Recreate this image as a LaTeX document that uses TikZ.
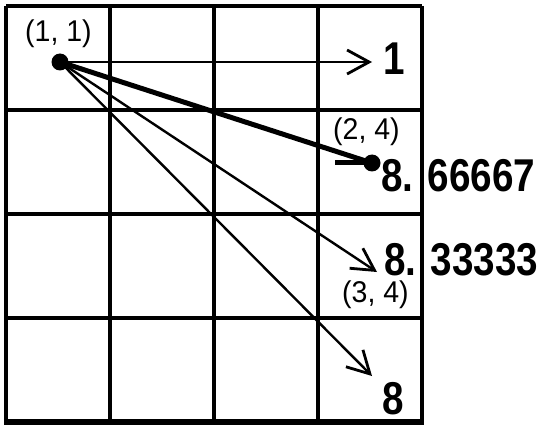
\documentclass[tikz,border=0pt]{standalone}
\usepackage{fontspec}
\setmainfont{Liberation Sans}
\newfontfamily\valfont[FakeStretch=0.84]{Liberation Sans Bold}
\newfontfamily\cellfont[FakeStretch=0.95]{Liberation Sans}
\usetikzlibrary{arrows.meta}

\tikzset{
  gridline/.style={line width=3.2pt, black},
  dotnode/.style={circle, fill=black, inner sep=0pt, minimum size=17pt},
  moveline/.style={line width=2.4pt, -{Straight Barb[length=22pt, width=24pt, line width=2.8pt]}},
  bestline/.style={line width=5pt},
  celllabel/.style={font=\cellfont\fontsize{30}{30}\selectfont, inner sep=0pt, anchor=base west},
  vallabel/.style={font=\valfont\fontsize{46}{46}\selectfont, inner sep=0pt, anchor=base west}
}

\begin{document}
\begin{tikzpicture}[x=1pt, y=-1pt]
  \useasboundingbox (0,0) rectangle (541,425);

  %% 4 x 4 grid
  \foreach \k in {0,...,4} {
    \draw[gridline] ({6+104*\k},6) -- ({6+104*\k},422);
    \draw[gridline] (6,{6+104*\k}) -- (422,{6+104*\k});
  }
  \draw[line width=5.5pt] (4,422) -- (424,422);

  %% start and end points
  \node[dotnode] (p11) at (60,62) {};
  \node[dotnode] (p24) at (372,163) {};
  \coordinate (e1) at (372,62);
  \coordinate (e34) at (377,272);
  \coordinate (e8) at (372,376);
  \coordinate (bar) at (335,163);

  %% moves
  \draw[moveline] (p11.center) -- (e1);
  \draw[moveline] (p11.center) -- (e34);
  \draw[moveline] (p11.center) -- (e8);
  \draw[bestline] (p11.center) -- (p24.center);
  \draw[bestline] (bar) -- (p24.center);

  %% cell labels
  \node[celllabel] (l11) at (25,42) {(1, 1)};
  \node[celllabel] (l24) at (333,140) {(2, 4)};
  \node[celllabel] (l34) at (342,302) {(3, 4)};

  %% values
  \node[vallabel] (v1) at (383,75) {1};
  \node[vallabel] (v24) at (381,192) {8. 66667};
  \node[vallabel] (v34) at (384,275) {8. 33333};
  \node[vallabel] (v8) at (382,414) {8};

\end{tikzpicture}
\end{document}
